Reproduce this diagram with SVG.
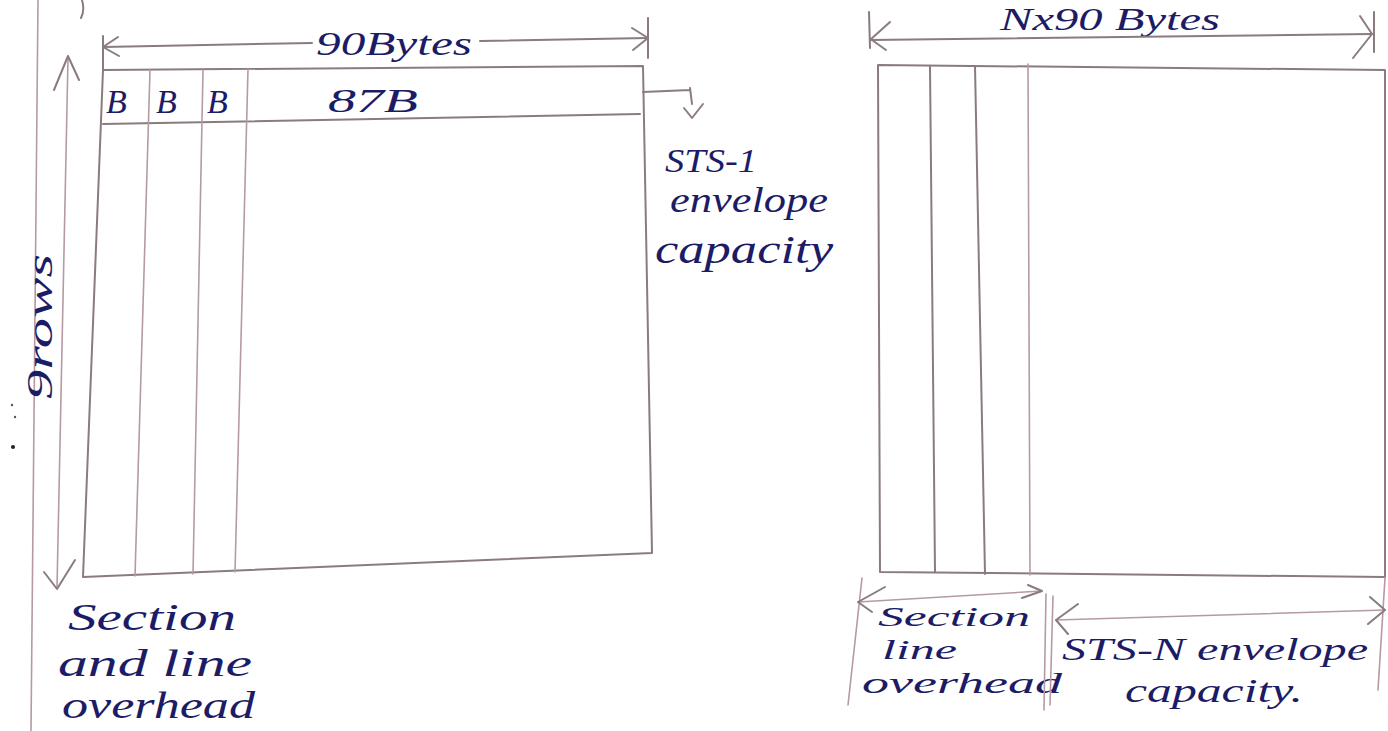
<svg xmlns="http://www.w3.org/2000/svg" width="1388" height="731" viewBox="0 0 1388 731">
<style>
.p{fill:none;stroke:#8a7b7e;stroke-width:2;stroke-linecap:round;stroke-linejoin:round}
.pl{fill:none;stroke:#b59aa2;stroke-width:1.6;stroke-linecap:round}
.t{font-family:"Liberation Serif","DejaVu Serif",serif;font-style:italic;fill:#1c1c66}
</style>
<rect width="1388" height="731" fill="#ffffff"/>
<g id="page">
<path class="pl" d="M38,0 L31,731"/>
<path class="p" d="M82,0 Q85,10 81,18"/>
<circle cx="12" cy="405" r="1.2" fill="#555"/>
<circle cx="15" cy="417" r="1.2" fill="#555"/>
<circle cx="13" cy="447" r="2" fill="#222"/>
</g>
<g id="sts1-frame">
<path class="p" d="M103,70 L643,66 L652,553 L83,577 Z"/>
<path class="p" d="M103,124 L640,114"/>
<path class="pl" d="M150,70 L135,576"/>
<path class="pl" d="M203,70 L193,574"/>
<path class="pl" d="M248,69 L235,572"/>
<text class="t" x="106" y="113" font-size="34">B</text>
<text class="t" x="156" y="113" font-size="34">B</text>
<text class="t" x="207" y="113" font-size="34">B</text>
<text class="t" x="328" y="112" font-size="34" textLength="90" lengthAdjust="spacingAndGlyphs">87B</text>
</g>
<g id="sts1-labels">
<text class="t" x="316" y="55" font-size="34" textLength="156" lengthAdjust="spacingAndGlyphs">90Bytes</text>
<text class="t" transform="translate(52,400) rotate(-90)" font-size="36" textLength="146" lengthAdjust="spacingAndGlyphs">9rows</text>
<text class="t" x="665" y="172" font-size="34" textLength="92" lengthAdjust="spacingAndGlyphs">STS-1</text>
<text class="t" x="670" y="212" font-size="36" textLength="158" lengthAdjust="spacingAndGlyphs">envelope</text>
<text class="t" x="655" y="263" font-size="40" textLength="178" lengthAdjust="spacingAndGlyphs">capacity</text>
<text class="t" x="68" y="630" font-size="38" textLength="168" lengthAdjust="spacingAndGlyphs">Section</text>
<text class="t" x="58" y="676" font-size="38" textLength="194" lengthAdjust="spacingAndGlyphs">and line</text>
<text class="t" x="62" y="718" font-size="38" textLength="193" lengthAdjust="spacingAndGlyphs">overhead</text>
</g>
<g id="stsn-frame">
<path class="p" d="M878,65 L1385,70 L1385,577 L880,572 Z"/>
<path class="p" d="M930,66 L935,572"/>
<path class="p" d="M975,66 L985,574"/>
<path class="pl" d="M1028,64 L1030,575"/>
</g>
<g id="stsn-labels">
<text class="t" x="1000" y="30" font-size="32" textLength="220" lengthAdjust="spacingAndGlyphs">Nx90 Bytes</text>
<text class="t" x="878" y="626" font-size="28" textLength="152" lengthAdjust="spacingAndGlyphs">Section</text>
<text class="t" x="882" y="659" font-size="28" textLength="75" lengthAdjust="spacingAndGlyphs">line</text>
<text class="t" x="862" y="693" font-size="30" textLength="200" lengthAdjust="spacingAndGlyphs">overhead</text>
<text class="t" x="1062" y="660" font-size="32" textLength="306" lengthAdjust="spacingAndGlyphs">STS-N envelope</text>
<text class="t" x="1125" y="702" font-size="34" textLength="178" lengthAdjust="spacingAndGlyphs">capacity.</text>
</g>
<g id="connectors">
<path class="p" d="M103,47 L312,43 M480,41 L648,38"/>
<path class="p" d="M118,37 L103,47 L119,56"/>
<path class="p" d="M632,28 L648,38 L633,50"/>
<path class="p" d="M103,36 L103,70 M648,18 L648,58"/>
<path class="p" d="M643,92 L690,90 M690,88 L692,104 M684,108 L692,118 L703,104"/>
<path class="pl" d="M68,58 L57,588"/>
<path class="p" d="M54,90 L68,56 L79,80"/>
<path class="p" d="M44,572 L57,589 L75,560"/>
<path class="p" d="M870,40 L1372,34"/>
<path class="p" d="M869,12 L870,48 M870,40 L890,22 M872,40 L886,50"/>
<path class="p" d="M1374,12 L1374,52 M1360,16 L1372,34 L1353,58"/>
<path class="pl" d="M862,578 L848,705 M1046,594 L1044,710"/>
<path class="pl" d="M858,602 L1042,591"/>
<path class="p" d="M885,587 L858,602 L872,612 M1022,598 L1042,591 L1028,585"/>
<path class="pl" d="M1053,596 L1050,705 M1385,578 L1378,690"/>
<path class="pl" d="M1056,620 L1385,610"/>
<path class="p" d="M1078,604 L1056,620 L1068,634 M1370,597 L1385,610 L1368,624"/>
</g>
</svg>
